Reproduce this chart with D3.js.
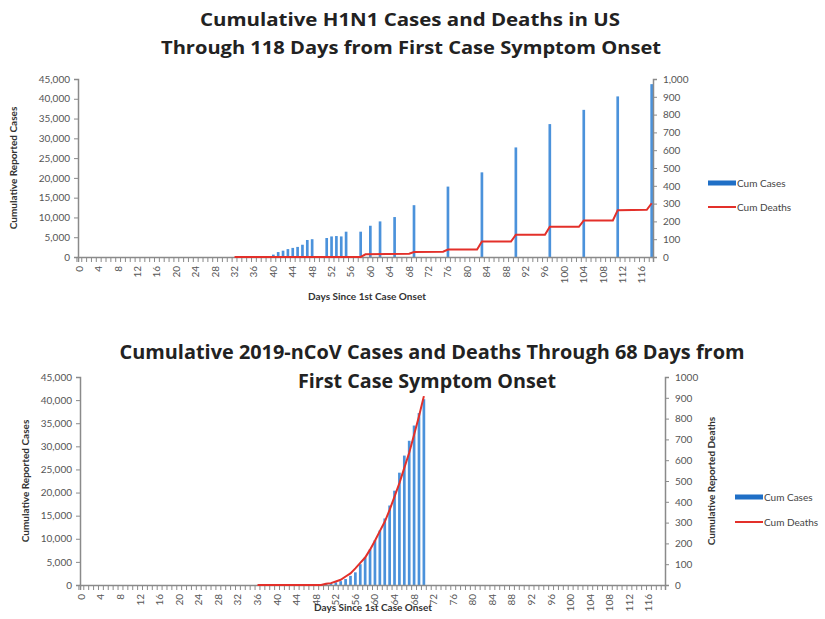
<!DOCTYPE html>
<html>
<head>
<meta charset="utf-8">
<script src="https://cdn.jsdelivr.net/npm/d3@7/dist/d3.min.js"></script>
<style>
  body { margin: 0; background: #fff; }
  text { font-family: Lato, "Open Sans", sans-serif; }
</style>
</head>
<body>
<svg id="chart" width="825" height="619"></svg>
<script>
// ---- H1N1 (top panel) ----
var h1n1Days  = [40, 41, 42, 43, 44, 45, 46, 47, 48, 51, 52, 53, 54, 55, 58, 60, 62, 65, 69, 76, 83, 90, 97, 104, 111, 118];
var h1n1Cases = [600, 1250, 1600, 2000, 2300, 2550, 3100, 4300, 4500, 4800, 5200, 5300, 5200, 6400, 6400, 7900, 9000, 10100, 13100, 17800, 21400, 27700, 33600, 37200, 40600, 43700];
var h1n1DeathDays = [32, 58, 59, 68, 69, 75, 76, 82, 83, 89, 90, 96, 97, 103, 104, 110, 111, 117, 118];
var h1n1Deaths    = [0, 0, 15, 18, 28, 30, 42, 42, 87, 87, 125, 125, 170, 170, 205, 205, 263, 265, 302];

// ---- 2019-nCoV (bottom panel) ----
var ncovDays  = [50, 51, 52, 53, 54, 55, 56, 57, 58, 59, 60, 61, 62, 63, 64, 65, 66, 67, 68, 69, 70];
var ncovCases = [280, 440, 570, 830, 1290, 1980, 2740, 4500, 5970, 7700, 9700, 11800, 14400, 17200, 20400, 24300, 28000, 31200, 34500, 37200, 40200];
var ncovDeathDays = [36, 49, 50, 51, 52, 53, 54, 55, 56, 57, 58, 59, 60, 61, 62, 63, 64, 65, 66, 67, 68, 69, 70];
var ncovDeaths    = [0, 0, 6, 9, 17, 25, 41, 56, 80, 106, 132, 170, 213, 259, 304, 361, 425, 490, 563, 636, 722, 811, 908];

var caseTicks  = [0, 5000, 10000, 15000, 20000, 25000, 30000, 35000, 40000, 45000];
var deathTicks = [0, 100, 200, 300, 400, 500, 600, 700, 800, 900, 1000];

var barColor = '#4b92db';
var lineColor = '#e3302a';
var axisColor = '#8a8a8a';

var svg = d3.select('#chart');

function panel(o) {
  var g = svg.append('g');

  var x = d3.scaleBand()
      .domain(d3.range(0, o.nDays))
      .range([o.left, o.right])
      .paddingInner(0.45);
  var step = x.step();
  var yC = d3.scaleLinear().domain([0, 45000]).range([o.bottom, o.top]);
  var yD = d3.scaleLinear().domain([0, 1000]).range([o.bottom, o.top]);

  // bars
  g.selectAll('.bar')
      .data(o.days)
      .enter().append('rect')
      .attr('x', function(d) { return x(d); })
      .attr('width', x.bandwidth())
      .attr('y', function(d, i) { return yC(o.cases[i]); })
      .attr('height', function(d, i) { return o.bottom - yC(o.cases[i]); })
      .style('fill', barColor);

  // left axis
  var la = g.append('g')
      .attr('transform', 'translate(' + o.left + ',0)')
      .call(d3.axisLeft(yC).tickValues(caseTicks).tickFormat(d3.format(',')).tickSize(4).tickPadding(4));
  // right axis
  var ra = g.append('g')
      .attr('transform', 'translate(' + o.right + ',0)')
      .call(d3.axisRight(yD).tickValues(deathTicks).tickFormat(o.rightFmt).tickSize(4).tickPadding(6));
  // x axis
  var xa = g.append('g')
      .attr('transform', 'translate(0,' + o.bottom + ')')
      .call(d3.axisBottom(x).tickSize(5).tickFormat(function(d) { return d % 4 == 0 ? d : ''; }));
  xa.selectAll('.tick line').attr('x1', -step / 2).attr('x2', -step / 2);
  xa.selectAll('.tick text')
      .attr('transform', 'rotate(-90)')
      .attr('text-anchor', 'end')
      .attr('x', -9)
      .attr('y', 0)
      .attr('dy', '0.35em');

  [la, ra, xa].forEach(function(a) {
    a.select('.domain').attr('stroke', axisColor).attr('stroke-width', 1.5);
    a.selectAll('.tick line').attr('stroke', axisColor);
    a.selectAll('.tick text').style('font-size', '10px').style('fill', '#555');
  });

  // deaths line
  var line = d3.line()
      .x(function(d) { return x(d[0]) + x.bandwidth() / 2; })
      .y(function(d) { return yD(d[1]); });
  g.append('path')
      .datum(o.deathDays.map(function(d, i) { return [d, o.deaths[i]]; }))
      .attr('d', line)
      .attr('fill', 'none')
      .attr('stroke', lineColor)
      .attr('stroke-width', 2);

  // titles (widths matched to the reference)
  o.title.forEach(function(t, i) {
    g.append('text')
        .attr('x', o.titleX[i])
        .attr('y', o.titleY[i])
        .attr('text-anchor', 'middle')
        .attr('textLength', o.titleW[i])
        .attr('lengthAdjust', 'spacingAndGlyphs')
        .style('font-family', '"Open Sans", Lato, sans-serif')
        .style('font-size', o.titleSize + 'px')
        .style('font-weight', 'bold')
        .style('fill', '#222')
        .text(t);
  });

  g.append('text')
      .attr('transform', 'translate(' + o.yTitleX + ',' + ((o.top + o.bottom) / 2) + ') rotate(-90)')
      .attr('text-anchor', 'middle')
      .style('font-size', '10px')
      .style('font-weight', 'bold')
      .style('fill', '#333')
      .text('Cumulative Reported Cases');

  if (o.y2TitleX) {
    g.append('text')
        .attr('transform', 'translate(' + o.y2TitleX + ',' + ((o.top + o.bottom) / 2) + ') rotate(-90)')
        .attr('text-anchor', 'middle')
        .style('font-size', '10px')
        .style('font-weight', 'bold')
        .style('fill', '#333')
        .text('Cumulative Reported Deaths');
  }

  g.append('text')
      .attr('x', o.xTitleX)
      .attr('y', o.xTitleY)
      .attr('text-anchor', 'middle')
      .style('font-size', '10px')
      .style('font-weight', 'bold')
      .style('fill', '#333')
      .text('Days Since 1st Case Onset');

  // legend
  g.append('rect')
      .attr('x', o.legX).attr('y', o.legY - 2.5)
      .attr('width', 28).attr('height', 5)
      .style('fill', '#1f6fc6');
  g.append('text')
      .attr('x', o.legX + 29).attr('y', o.legY)
      .attr('dy', '0.35em')
      .style('font-size', '10px').style('fill', '#444')
      .text('Cum Cases');
  g.append('line')
      .attr('x1', o.legX).attr('x2', o.legX + 28)
      .attr('y1', o.legY + o.legGap).attr('y2', o.legY + o.legGap)
      .attr('stroke', lineColor).attr('stroke-width', 2);
  g.append('text')
      .attr('x', o.legX + 29).attr('y', o.legY + o.legGap)
      .attr('dy', '0.35em')
      .style('font-size', '10px').style('fill', '#444')
      .text('Cum Deaths');
}

panel({
  days: h1n1Days, cases: h1n1Cases, deathDays: h1n1DeathDays, deaths: h1n1Deaths,
  nDays: 119, left: 78, right: 653, top: 79, bottom: 257,
  rightFmt: d3.format(','),
  title: ['Cumulative H1N1 Cases and  Deaths in US', 'Through  118 Days from First Case Symptom Onset'],
  titleX: [410, 411], titleY: [26, 54], titleW: [420, 500], titleSize: 18,
  yTitleX: 17, y2TitleX: null,
  xTitleX: 367, xTitleY: 300,
  legX: 708, legY: 183, legGap: 24
});

panel({
  days: ncovDays, cases: ncovCases, deathDays: ncovDeathDays, deaths: ncovDeaths,
  nDays: 120, left: 80, right: 665, top: 377, bottom: 585,
  rightFmt: d3.format('d'),
  title: ['Cumulative 2019-nCoV Cases and Deaths Through 68 Days from', 'First Case Symptom Onset'],
  titleX: [432, 427], titleY: [359, 388], titleW: [625, 258], titleSize: 20,
  yTitleX: 29, y2TitleX: 715,
  xTitleX: 373, xTitleY: 611,
  legX: 735, legY: 497, legGap: 25
});
</script>
</body>
</html>
